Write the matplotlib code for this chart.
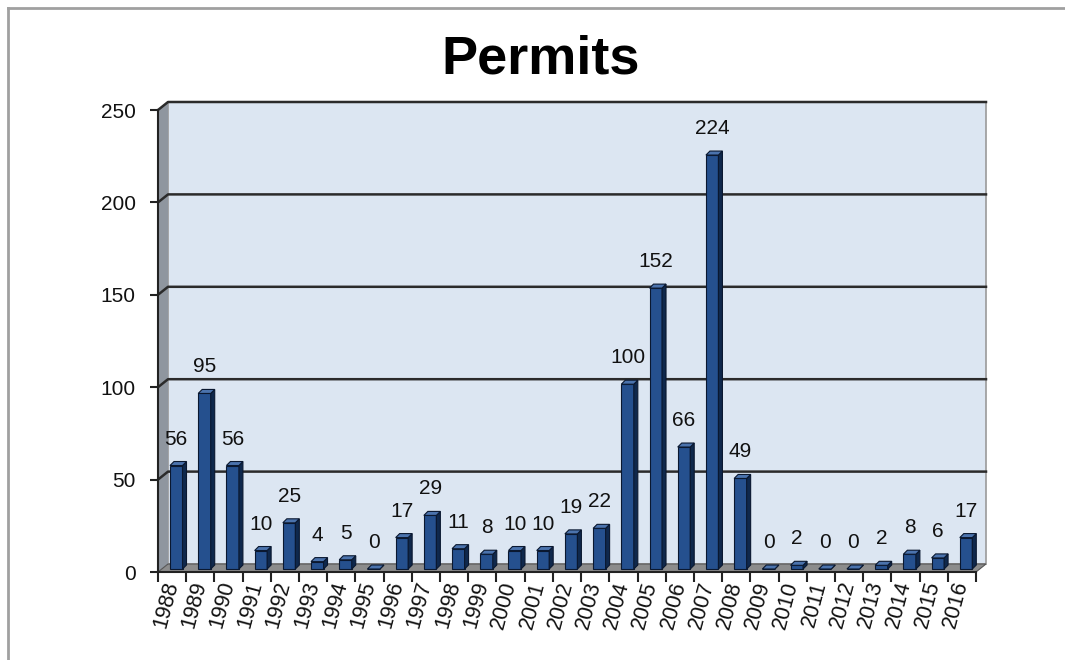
import matplotlib.pyplot as plt
import matplotlib.transforms as mtransforms
from matplotlib.patches import Polygon
from matplotlib.lines import Line2D
import numpy as np

plt.rcParams['font.family'] = ['Liberation Sans', 'DejaVu Sans']

years = ['1988', '1989', '1990', '1991', '1992', '1993', '1994', '1995', '1996', '1997',
         '1998', '1999', '2000', '2001', '2002', '2003', '2004', '2005', '2006', '2007',
         '2008', '2009', '2010', '2011', '2012', '2013', '2014', '2015', '2016']
permits = [56, 95, 56, 10, 25, 4, 5, 0, 17, 29,
           11, 8, 10, 10, 19, 22, 100, 152, 66, 224,
           49, 0, 2, 0, 0, 2, 8, 6, 17]
yticks = [0, 50, 100, 150, 200, 250]

fig = plt.figure(figsize=(10.65, 6.6), dpi=100)
W, H = 1065, 660
# front plane of the pseudo-3d box
left_px, right_px, top_px, bot_px = 158, 976, 110, 572
ax = fig.add_axes([left_px / W, (H - bot_px) / H, (right_px - left_px) / W, (bot_px - top_px) / H])
n = len(years)
x0, x1 = -0.5, n - 0.5
ax.set_xlim(x0, x1)
ax.set_ylim(0, 250)

pxx = (right_px - left_px) / n       # pixels per category
pxy = (bot_px - top_px) / 250.0      # pixels per unit
dx, dy = 10 / pxx, 8 / pxy           # wall depth
bdx, bdy = 4 / pxx, 4 / pxy          # bar depth
boff = 3 / pxy                        # bar base lift

# walls
wall = Polygon([(x0 + dx, dy), (x1 + dx, dy), (x1 + dx, 250 + dy), (x0 + dx, 250 + dy)],
               closed=True, fc='#dce6f2', ec='#9a9a9a', lw=1.2, clip_on=False, zorder=0)
ax.add_patch(wall)
side = Polygon([(x0, 0), (x0 + dx, dy), (x0 + dx, 250 + dy), (x0, 250)],
               closed=True, fc='#8f969f', ec='none', clip_on=False, zorder=0.5)
ax.add_patch(side)
floor = Polygon([(x0, 0), (x1, 0), (x1 + dx, dy), (x0 + dx, dy)],
                closed=True, fc='#8c8c8c', ec='#555555', lw=0.8, clip_on=False, zorder=0.5)
ax.add_patch(floor)

# gridlines
for t in yticks[1:]:
    ax.plot([x0, x0 + dx, x1 + dx], [t, t + dy, t + dy], color='#2b2b2b', lw=1.8,
            clip_on=False, zorder=1)

# bars
front_c, side_c, top_c, edge_c = '#25508e', '#0f284c', '#4b73ad', '#0a1830'
bw = 12.5 / pxx
for i, v in enumerate(permits):
    xl = i - 0.5 + 12 / pxx
    xr = xl + bw
    yb = boff
    yt = boff + v
    ax.add_patch(Polygon([(xl, yb), (xr, yb), (xr, yt), (xl, yt)], closed=True,
                         fc=front_c, ec=edge_c, lw=0.8, zorder=3, clip_on=False))
    ax.add_patch(Polygon([(xr, yb), (xr + bdx, yb + bdy), (xr + bdx, yt + bdy), (xr, yt)],
                         closed=True, fc=side_c, ec=edge_c, lw=0.8, zorder=3, clip_on=False))
    ax.add_patch(Polygon([(xl, yt), (xr, yt), (xr + bdx, yt + bdy), (xl + bdx, yt + bdy)],
                         closed=True, fc=top_c, ec=edge_c, lw=0.8, zorder=3, clip_on=False))
    ax.annotate(str(v), ((xl + xr) / 2, yt + bdy), xytext=(0, 13), textcoords='offset pixels',
                ha='center', va='bottom', fontsize=15, color='#111111', zorder=4,
                annotation_clip=False)

# axes lines and ticks
for s in ['top', 'right']:
    ax.spines[s].set_visible(False)
for s in ['left', 'bottom']:
    ax.spines[s].set_color('#222222')
    ax.spines[s].set_linewidth(1.5)
    ax.spines[s].set_zorder(2)
ax.set_yticks(yticks)
ax.set_yticklabels([str(t) for t in yticks], fontsize=15, color='#111111')
ax.tick_params(axis='y', length=6, width=1.5, color='#222222', pad=10)
ax.set_xticks(np.arange(n))
ax.set_xticklabels(years, rotation=75, ha='right', va='top', fontsize=15.5, color='#111111')
ax.set_xticks(np.arange(n + 1) - 0.5, minor=True)
ax.tick_params(axis='x', which='major', length=0, pad=5)
ax.tick_params(axis='x', which='minor', length=7, width=1.5, color='#222222')
shift = mtransforms.ScaledTranslation(10 / 100, 0, fig.dpi_scale_trans)
for lab in ax.get_xticklabels():
    lab.set_transform(lab.get_transform() + shift)
ax.set_facecolor('none')

fig.text(541 / W, 1 - 60 / H, 'Permits', ha='center', va='center', fontsize=39,
         fontweight='bold', color='black')

# outer frame lines (top and left)
fig.add_artist(Line2D([8 / W, 1], [1 - 8 / H, 1 - 8 / H], color='#a0a0a0', lw=2))
fig.add_artist(Line2D([8 / W, 8 / W], [0, 1 - 8 / H], color='#a0a0a0', lw=2))

fig.savefig('out.png', dpi=100)
plt.close(fig)
